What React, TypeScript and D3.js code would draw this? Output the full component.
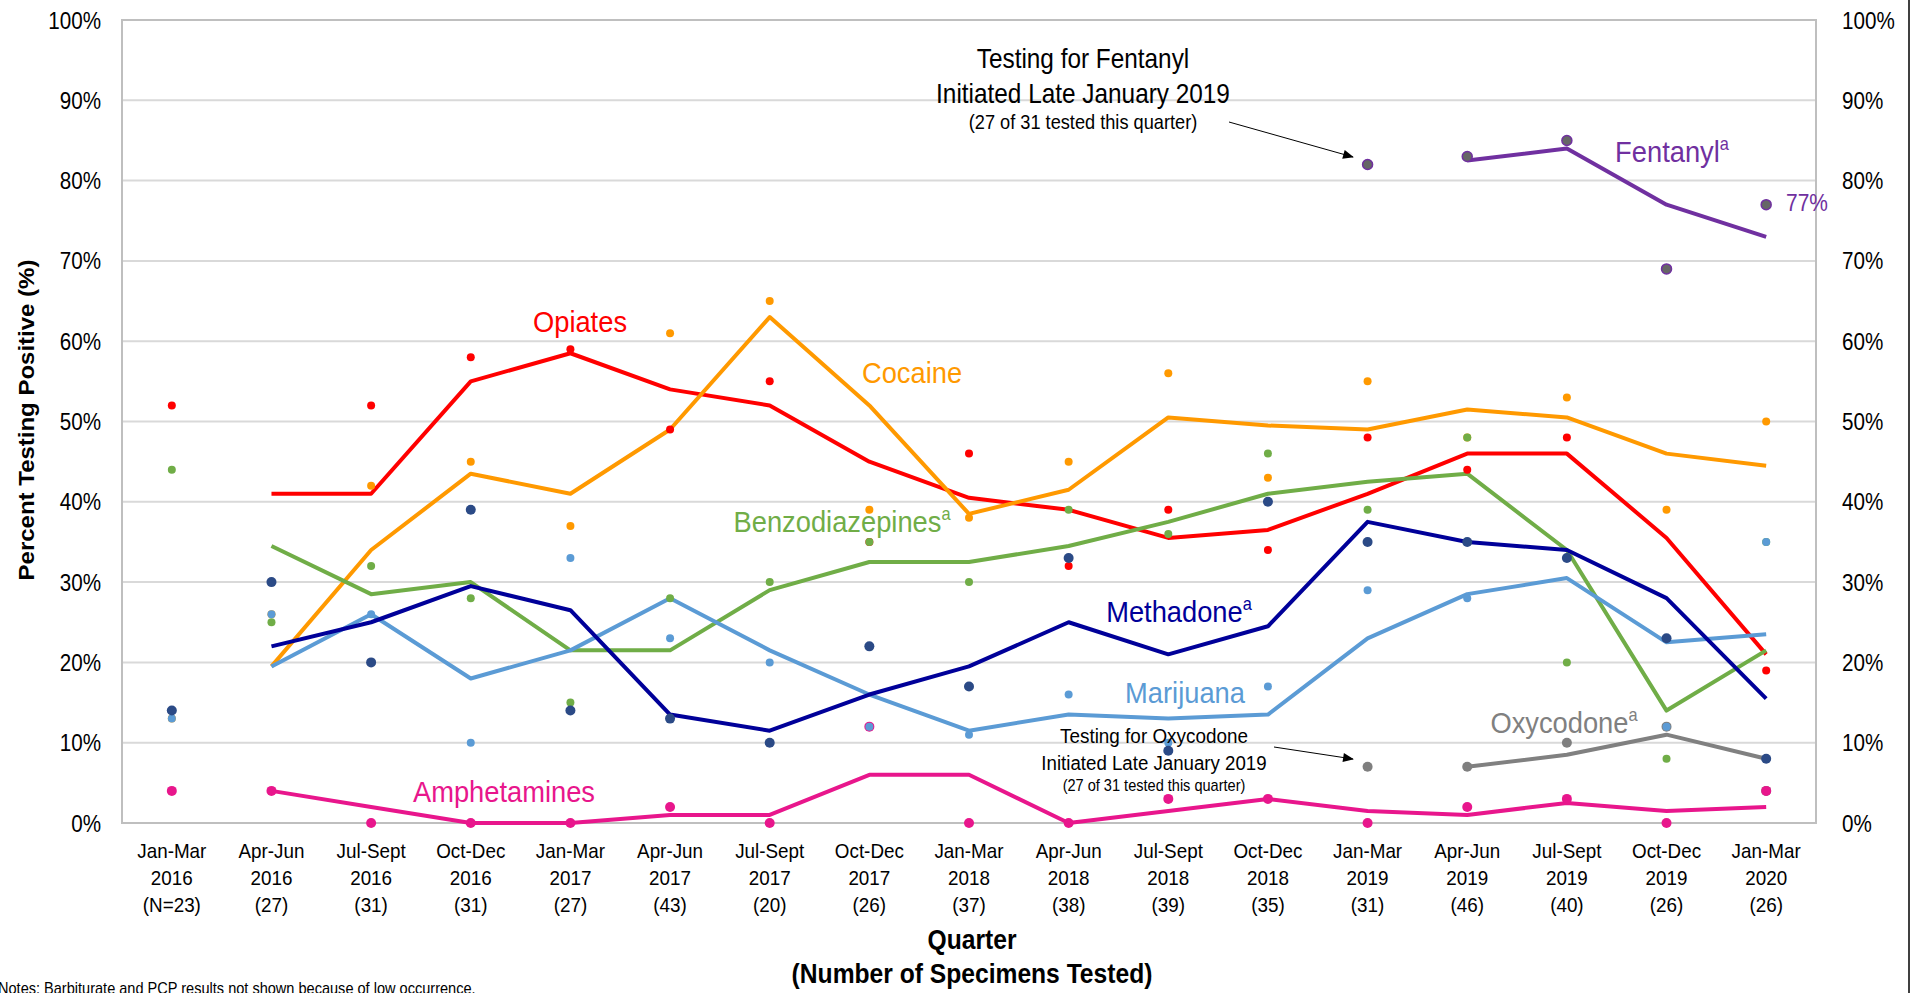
import React from "react";
import * as d3 from "d3";

// quarter labels (3 lines under each tick)
const quarters = ["Jan-Mar", "Apr-Jun", "Jul-Sept", "Oct-Dec", "Jan-Mar", "Apr-Jun", "Jul-Sept", "Oct-Dec", "Jan-Mar", "Apr-Jun", "Jul-Sept", "Oct-Dec", "Jan-Mar", "Apr-Jun", "Jul-Sept", "Oct-Dec", "Jan-Mar"];
const years = ["2016", "2016", "2016", "2016", "2017", "2017", "2017", "2017", "2018", "2018", "2018", "2018", "2019", "2019", "2019", "2019", "2020"];
const counts = ["(N=23)", "(27)", "(31)", "(31)", "(27)", "(43)", "(20)", "(26)", "(37)", "(38)", "(39)", "(35)", "(31)", "(46)", "(40)", "(26)", "(26)"];
const yTicks = [0, 10, 20, 30, 40, 50, 60, 70, 80, 90, 100];

type V = number | null;

// quarterly results (dots)
const opiatesDots: V[] = [52, 30, 52, 58, 59, 49, 55, 35, 46, 32, 39, 34, 48, 44, 48, 23, 19];
const cocaineDots: V[] = [13, 26, 42, 45, 37, 61, 65, 39, 38, 45, 56, 43, 55, 48, 53, 39, 50];
const benzoDots: V[] = [44, 25, 32, 28, 15, 28, 30, 35, 30, 39, 36, 46, 39, 48, 20, 8, 35];
const oxyDots: V[] = [null, null, null, null, null, null, null, null, null, null, null, null, 7, 7, 10, 12, 4];
const amphetDots: V[] = [4, 4, 0, 0, 0, 2, 0, 12, 0, 0, 3, 3, 0, 2, 3, 0, 4];
const marijuanaDots: V[] = [13, 26, 26, 10, 33, 23, 20, 12, 11, 16, 10, 17, 29, 28, 33, 12, 35];
const methadoneDots: V[] = [14, 30, 20, 39, 14, 13, 10, 22, 17, 33, 9, 40, 35, 35, 33, 23, 8];
const fentanylDots: V[] = [null, null, null, null, null, null, null, null, null, null, null, null, 82, 83, 85, 69, 77];

// trend lines (two-quarter values as plotted)
const opiatesLine: V[] = [null, 41, 41, 55, 58.5, 54, 52, 45, 40.5, 39, 35.5, 36.5, 41, 46, 46, 35.5, 21];
const cocaineLine: V[] = [null, 19.5, 34, 43.5, 41, 49, 63, 52, 38.5, 41.5, 50.5, 49.5, 49, 51.5, 50.5, 46, 44.5];
const benzoLine: V[] = [null, 34.5, 28.5, 30, 21.5, 21.5, 29, 32.5, 32.5, 34.5, 37.5, 41, 42.5, 43.5, 34, 14, 21.5];
const oxyLine: V[] = [null, null, null, null, null, null, null, null, null, null, null, null, null, 7, 8.5, 11, 8];
const amphetLine: V[] = [null, 4, 2, 0, 0, 1, 1, 6, 6, 0, 1.5, 3, 1.5, 1, 2.5, 1.5, 2];
const marijuanaLine: V[] = [null, 19.5, 26, 18, 21.5, 28, 21.5, 16, 11.5, 13.5, 13, 13.5, 23, 28.5, 30.5, 22.5, 23.5];
const methadoneLine: V[] = [null, 22, 25, 29.5, 26.5, 13.5, 11.5, 16, 19.5, 25, 21, 24.5, 37.5, 35, 34, 28, 15.5];
const fentanylLine: V[] = [null, null, null, null, null, null, null, null, null, null, null, null, null, 82.5, 84, 77, 73];

const FONT = "'Liberation Sans', Arial, sans-serif";
const W = 1914;
const H = 993;

const series = [
  { name: "Opiates", dots: opiatesDots, line: opiatesLine, color: "#ff0000", dot: "#ff0000", r: 4, stroke: null },
  { name: "Cocaine", dots: cocaineDots, line: cocaineLine, color: "#ff9900", dot: "#ff9900", r: 4, stroke: null },
  { name: "Benzodiazepines", dots: benzoDots, line: benzoLine, color: "#70ad47", dot: "#70ad47", r: 4, stroke: null },
  { name: "Oxycodone", dots: oxyDots, line: oxyLine, color: "#808080", dot: "#7f7f7f", r: 5, stroke: null },
  { name: "Amphetamines", dots: amphetDots, line: amphetLine, color: "#e8168c", dot: "#e8168c", r: 5, stroke: null },
  { name: "Marijuana", dots: marijuanaDots, line: marijuanaLine, color: "#5b9bd5", dot: "#5b9bd5", r: 4, stroke: null },
  { name: "Methadone", dots: methadoneDots, line: methadoneLine, color: "#000099", dot: "#2b4a86", r: 5, stroke: null },
  { name: "Fentanyl", dots: fentanylDots, line: fentanylLine, color: "#7030a0", dot: "#666666", r: 5, stroke: "#7030a0" },
];

// text squeezed horizontally, the source chart text is a narrow Arial
function T(props: { x: number; y: number; size: number; sx?: number; anchor?: string; fill?: string; bold?: boolean; children: React.ReactNode }) {
  const { x, y, size, sx = 0.91, anchor = "middle", fill = "#000", bold = false, children } = props;
  return (
    <text transform={`translate(${x},${y}) scale(${sx},1)`} fontSize={size} textAnchor={anchor} fill={fill} fontWeight={bold ? "bold" : "normal"} fontFamily={FONT}>
      {children}
    </text>
  );
}

export default function App() {
  const left = 122, right = 1816, top = 20, bottom = 823;
  const x = d3.scaleBand<number>().domain(d3.range(quarters.length)).range([left, right]);
  const cx = (i: number) => (x(i) ?? 0) + x.bandwidth() / 2;
  const y = d3.scaleLinear().domain([0, 100]).range([bottom, top]);
  const line = d3
    .line<V>()
    .defined((d) => d != null)
    .x((_, i) => cx(i))
    .y((d) => y(d as number));

  const label = (txt: string, sup: boolean, color: string, lx: number, ly: number) => (
    <T x={lx} y={ly} size={30} fill={color}>
      {txt}
      {sup && (
        <tspan fontSize={18} dy={-12}>
          a
        </tspan>
      )}
    </T>
  );

  return (
    <svg width={W} height={H} style={{ position: "absolute", left: 0, top: 0, background: "#fff" }} fontFamily={FONT}>
      <defs>
        <marker id="arr" viewBox="0 0 12 10" refX="11" refY="5" markerWidth="12" markerHeight="9" orient="auto" markerUnits="userSpaceOnUse">
          <path d="M0,0 L12,5 L0,10 z" fill="#000" />
        </marker>
      </defs>
      <rect x={0} y={0} width={W} height={H} fill="#fff" />

      {/* grid */}
      {yTicks.map((t) => (
        <line key={t} x1={left} x2={right} y1={y(t)} y2={y(t)} stroke="#d9d9d9" strokeWidth={2} />
      ))}
      <rect x={left} y={top} width={right - left} height={bottom - top} fill="none" stroke="#bfbfbf" strokeWidth={2} />
      <line x1={1909} x2={1909} y1={0} y2={H} stroke="#404040" strokeWidth={2} />

      {/* y tick labels, both sides */}
      {yTicks.map((t) => (
        <g key={"yl" + t}>
          <T x={101} y={y(t) + 8.5} size={24} sx={0.86} anchor="end">{t}%</T>
          <T x={1842} y={y(t) + 8.5} size={24} sx={0.86} anchor="start">{t}%</T>
        </g>
      ))}

      {/* x tick labels */}
      {quarters.map((q, i) => (
        <text key={"xl" + i} transform={`translate(${cx(i)},0) scale(0.92,1)`} fontSize={20.5} textAnchor="middle" fill="#000">
          <tspan x={0} y={858}>{q}</tspan>
          <tspan x={0} y={885}>{years[i]}</tspan>
          <tspan x={0} y={912}>{counts[i]}</tspan>
        </text>
      ))}

      {/* axis titles */}
      <text transform="translate(34,420) rotate(-90) scale(1,0.91)" textAnchor="middle" fontSize={24} fontWeight="bold">
        Percent Testing Positive (%)
      </text>
      <T x={972} y={949} size={28} sx={0.88} bold>Quarter</T>
      <T x={972} y={983} size={28} sx={0.88} bold>(Number of Specimens Tested)</T>

      {/* trend lines */}
      {series.map((s) => (
        <path key={"l" + s.name} d={line(s.line) ?? ""} fill="none" stroke={s.color} strokeWidth={4} strokeLinejoin="round" />
      ))}

      {/* quarterly dots */}
      {series.map((s) =>
        s.dots.map((d, i) =>
          d == null ? null : (
            <circle key={s.name + i} cx={cx(i)} cy={y(d)} r={s.r} fill={s.dot} stroke={s.stroke ?? "none"} strokeWidth={s.stroke ? 1.5 : 0} />
          )
        )
      )}

      {/* series labels */}
      {label("Opiates", false, "#ff0000", 580, 332)}
      {label("Cocaine", false, "#ff9900", 912, 383)}
      {label("Benzodiazepines", true, "#70ad47", 842, 532)}
      {label("Methadone", true, "#000099", 1179, 622)}
      {label("Marijuana", false, "#5b9bd5", 1185, 703)}
      {label("Amphetamines", false, "#e8168c", 504, 802)}
      {label("Oxycodone", true, "#808080", 1564, 733)}
      {label("Fentanyl", true, "#7030a0", 1672, 162)}
      <T x={1786} y={211} size={23} anchor="start" fill="#7030a0">77%</T>

      {/* fentanyl note */}
      <T x={1083} y={68} size={28} sx={0.87}>Testing for Fentanyl</T>
      <T x={1083} y={103} size={28} sx={0.87}>Initiated Late January 2019</T>
      <T x={1083} y={129} size={20}>(27 of 31 tested this quarter)</T>
      <line x1={1229} y1={122} x2={1353} y2={157} stroke="#000" strokeWidth={1} markerEnd="url(#arr)" />

      {/* oxycodone note */}
      <T x={1154} y={743} size={21} sx={0.9}>Testing for Oxycodone</T>
      <T x={1154} y={770} size={21} sx={0.89}>Initiated Late January 2019</T>
      <T x={1154} y={791} size={16}>(27 of 31 tested this quarter)</T>
      <line x1={1274} y1={747} x2={1353} y2={759} stroke="#000" strokeWidth={1} markerEnd="url(#arr)" />

      <T x={-2} y={994} size={16} anchor="start">
        Notes: Barbiturate and PCP results not shown because of low occurrence.
      </T>
    </svg>
  );
}
